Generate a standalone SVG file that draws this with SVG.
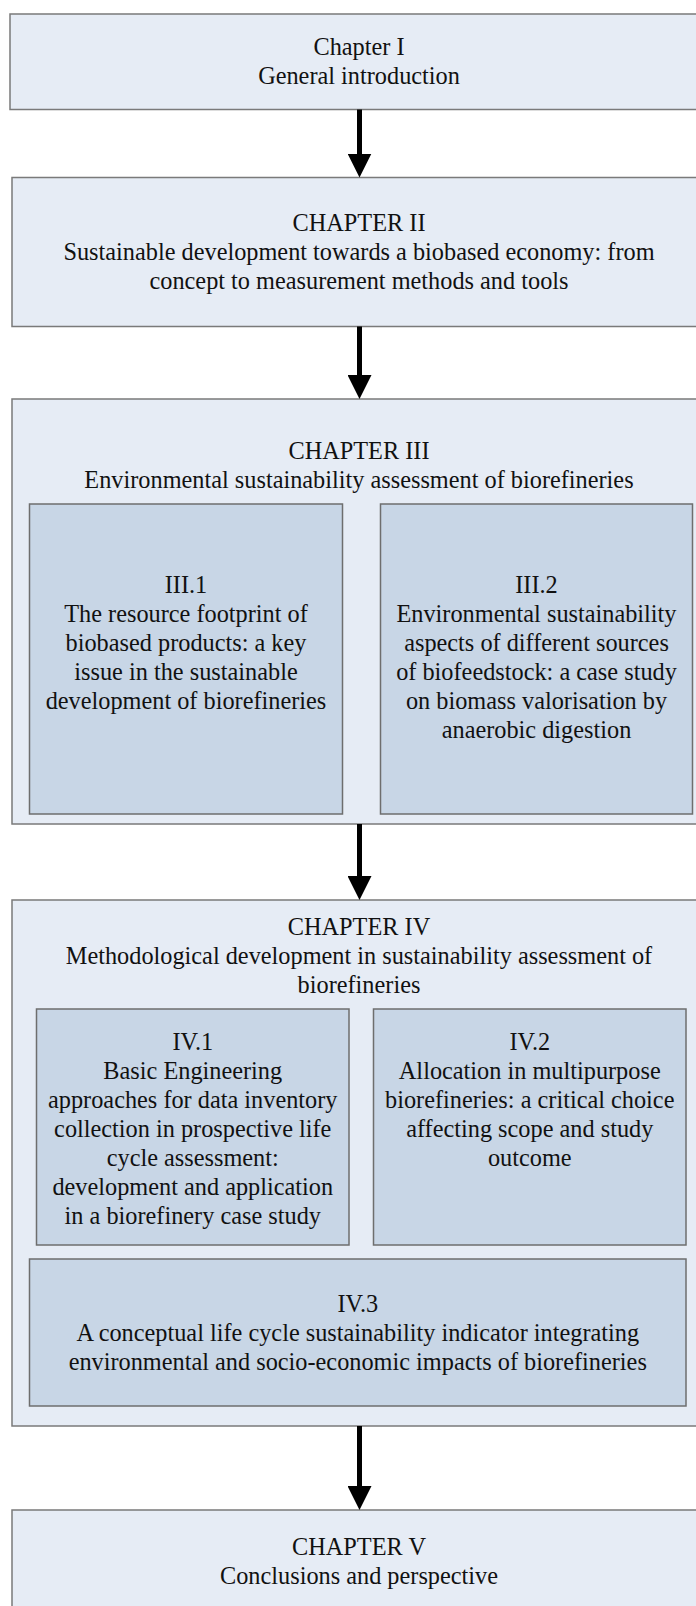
<svg xmlns="http://www.w3.org/2000/svg" width="696" height="1606" viewBox="0 0 696 1606">
  <style>
    .outer { fill: #e6ecf5; stroke: #7a7a7a; stroke-width: 1.5; }
    .inner { fill: #c8d6e6; stroke: #6e6e6e; stroke-width: 1.5; }
    text { font-family: "Liberation Serif", "Times New Roman", serif; font-size: 24.3px; fill: #111; text-anchor: middle; }
    .conn { stroke: #000; stroke-width: 5; fill: none; }
  </style>
  <defs>
    <marker id="arrowhead" markerUnits="userSpaceOnUse" viewBox="0 0 24 24" markerWidth="24" markerHeight="24" refX="2" refY="12" orient="auto">
      <path d="M0,0 L24,12 L0,24 Z" fill="#000"/>
    </marker>
  </defs>
  <rect width="696" height="1606" fill="#ffffff"/>

  <!-- Chapter I -->
  <g id="chapter1">
    <rect class="outer" x="10" y="14" width="700" height="95.5"/>
    <text x="359" y="55">Chapter I</text>
    <text x="359" y="84">General introduction</text>
  </g>

  <!-- Chapter II -->
  <g id="chapter2">
    <rect class="outer" x="12" y="177.5" width="700" height="149"/>
    <text x="359" y="231">CHAPTER II</text>
    <text x="359" y="260">Sustainable development towards a biobased economy: from</text>
    <text x="359" y="289">concept to measurement methods and tools</text>
  </g>

  <!-- Chapter III with its two studies -->
  <g id="chapter3">
    <rect class="outer" x="12" y="399" width="700" height="425"/>
    <text x="359" y="459">CHAPTER III</text>
    <text x="359" y="488">Environmental sustainability assessment of biorefineries</text>
  </g>
  <g id="study3-1">
    <rect class="inner" x="29.5" y="504" width="313" height="310"/>
    <text x="186" y="593">III.1</text>
    <text x="186" y="622">The resource footprint of</text>
    <text x="186" y="651">biobased products: a key</text>
    <text x="186" y="680">issue in the sustainable</text>
    <text x="186" y="709">development of biorefineries</text>
  </g>
  <g id="study3-2">
    <rect class="inner" x="380.5" y="504" width="312" height="310"/>
    <text x="536.5" y="593">III.2</text>
    <text x="536.5" y="622">Environmental sustainability</text>
    <text x="536.5" y="651">aspects of different sources</text>
    <text x="536.5" y="680">of biofeedstock: a case study</text>
    <text x="536.5" y="709">on biomass valorisation by</text>
    <text x="536.5" y="738">anaerobic digestion</text>
  </g>

  <!-- Chapter IV with its three studies -->
  <g id="chapter4">
    <rect class="outer" x="12" y="900" width="700" height="526"/>
    <text x="359" y="935">CHAPTER IV</text>
    <text x="359" y="964">Methodological development in sustainability assessment of</text>
    <text x="359" y="993">biorefineries</text>
  </g>
  <g id="study4-1">
    <rect class="inner" x="36.5" y="1009" width="312.5" height="236"/>
    <text x="192.75" y="1050">IV.1</text>
    <text x="192.75" y="1079">Basic Engineering</text>
    <text x="192.75" y="1108">approaches for data inventory</text>
    <text x="192.75" y="1137">collection in prospective life</text>
    <text x="192.75" y="1166">cycle assessment:</text>
    <text x="192.75" y="1195">development and application</text>
    <text x="192.75" y="1224">in a biorefinery case study</text>
  </g>
  <g id="study4-2">
    <rect class="inner" x="373.5" y="1009" width="312.5" height="236"/>
    <text x="529.75" y="1050">IV.2</text>
    <text x="529.75" y="1079">Allocation in multipurpose</text>
    <text x="529.75" y="1108">biorefineries: a critical choice</text>
    <text x="529.75" y="1137">affecting scope and study</text>
    <text x="529.75" y="1166">outcome</text>
  </g>
  <g id="study4-3">
    <rect class="inner" x="29.5" y="1259" width="656.5" height="147"/>
    <text x="357.75" y="1312">IV.3</text>
    <text x="357.75" y="1341">A conceptual life cycle sustainability indicator integrating</text>
    <text x="357.75" y="1370">environmental and socio-economic impacts of biorefineries</text>
  </g>

  <!-- Chapter V -->
  <g id="chapter5">
    <rect class="outer" x="12" y="1510" width="700" height="110"/>
    <text x="359" y="1555">CHAPTER V</text>
    <text x="359" y="1584">Conclusions and perspective</text>
  </g>

  <!-- Connectors between chapters -->
  <g id="connectors">
    <line class="conn" x1="359.5" y1="109.5" x2="359.5" y2="155.5" marker-end="url(#arrowhead)"/>
    <line class="conn" x1="359.5" y1="326.5" x2="359.5" y2="377" marker-end="url(#arrowhead)"/>
    <line class="conn" x1="359.5" y1="824" x2="359.5" y2="878" marker-end="url(#arrowhead)"/>
    <line class="conn" x1="359.5" y1="1426" x2="359.5" y2="1488" marker-end="url(#arrowhead)"/>
  </g>
</svg>
